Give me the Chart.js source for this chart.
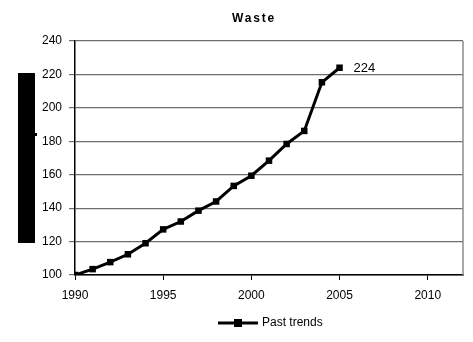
<!DOCTYPE html>
<html>
<head>
<meta charset="utf-8">
<script src="https://cdn.jsdelivr.net/npm/chart.js@4/dist/chart.umd.min.js"></script>
<style>
  html, body { margin: 0; padding: 0; background: #fff; }
  #wrap { position: relative; width: 473px; height: 342px; }
  #chart { display: block; }
  /* solid block sitting over the vertical axis title */
  #axisBlock { position: absolute; left: 18px; top: 73px; width: 17px; height: 170px; background: #000; }
  #axisBlock::after { content: ''; position: absolute; left: 17px; top: 60px; width: 2px; height: 3px; background: #000; }
</style>
</head>
<body>
<div id="wrap">
  <canvas id="chart" width="473" height="342"></canvas>
  <div id="axisBlock"></div>
</div>
<script>
// ── data ──
const years  = [1990, 1991, 1992, 1993, 1994, 1995, 1996, 1997, 1998, 1999, 2000, 2001, 2002, 2003, 2004, 2005];
const waste  = [100, 103.5, 107.7, 112.4, 119, 127.3, 132, 138.5, 144, 153.3, 159.4, 168.4, 178.4, 186.2, 215.3, 224];
const yTicks = [100, 120, 140, 160, 180, 200, 220, 240];
const xTicks = [1990, 1995, 2000, 2005, 2010];
const seriesName = 'Past trends';
const chartTitle = 'Waste';

const FONT = '"Liberation Sans", Arial, sans-serif';

// title, end-value label, right frame edge and legend
const extras = {
  id: 'extras',
  afterDraw(chart) {
    const { ctx, chartArea: a } = chart;
    ctx.save();

    ctx.strokeStyle = '#8c8c8c';
    ctx.lineWidth = 1.5;
    ctx.beginPath();
    ctx.moveTo(a.right, a.top);
    ctx.lineTo(a.right, a.bottom);
    ctx.stroke();

    ctx.fillStyle = '#000';
    ctx.font = 'bold 12px ' + FONT;
    ctx.letterSpacing = '1.8px';
    ctx.textAlign = 'center';
    ctx.textBaseline = 'middle';
    ctx.fillText(chartTitle, 254, 19);
    ctx.letterSpacing = '0px';

    // label on the last point
    const meta = chart.getDatasetMeta(0);
    const last = meta.data[meta.data.length - 1];
    ctx.font = '13px ' + FONT;
    ctx.textAlign = 'left';
    ctx.fillText(String(Math.floor(waste[waste.length - 1])), last.x + 14, last.y + 1);

    // legend
    const ly = 323, lx = 218;
    ctx.strokeStyle = '#000';
    ctx.lineWidth = 3;
    ctx.beginPath();
    ctx.moveTo(lx, ly);
    ctx.lineTo(lx + 40, ly);
    ctx.stroke();
    ctx.fillRect(lx + 16, ly - 4, 8, 8);
    ctx.font = '12px ' + FONT;
    ctx.fillText(seriesName, lx + 44, ly);

    ctx.restore();
  }
};

new Chart(document.getElementById('chart'), {
  type: 'line',
  data: {
    datasets: [{
      label: seriesName,
      data: years.map((y, i) => ({ x: y, y: waste[i] })),
      borderColor: '#000',
      backgroundColor: '#000',
      borderWidth: 3,
      pointStyle: 'rect',
      pointRadius: 4.6,
      pointBorderWidth: 0,
      tension: 0,
    }]
  },
  options: {
    responsive: false,
    animation: false,
    layout: { padding: { top: 41, right: 10, bottom: 0, left: 0 } },
    plugins: {
      legend: { display: false },
      title: { display: false },
      tooltip: { enabled: false }
    },
    scales: {
      x: {
        type: 'linear',
        min: 1990, max: 2012,
        afterBuildTicks: s => { s.ticks = xTicks.map(v => ({ value: v })); },
        afterFit: s => { s.height = 67; },
        border: { color: '#000', width: 1.5 },
        grid: { drawOnChartArea: false, tickLength: 5, color: '#000', lineWidth: 1 },
        ticks: { padding: 8, color: '#000', font: { family: FONT, size: 12 }, callback: v => String(v) }
      },
      y: {
        min: 100, max: 240,
        afterBuildTicks: s => { s.ticks = yTicks.map(v => ({ value: v })); },
        afterFit: s => { s.width = 75; },
        border: { color: '#000', width: 1.5 },
        grid: { color: '#6e6e6e', lineWidth: 1.2, tickLength: 6 },
        ticks: { padding: 7, color: '#000', font: { family: FONT, size: 12 } }
      }
    }
  },
  plugins: [extras]
});
</script>
</body>
</html>
